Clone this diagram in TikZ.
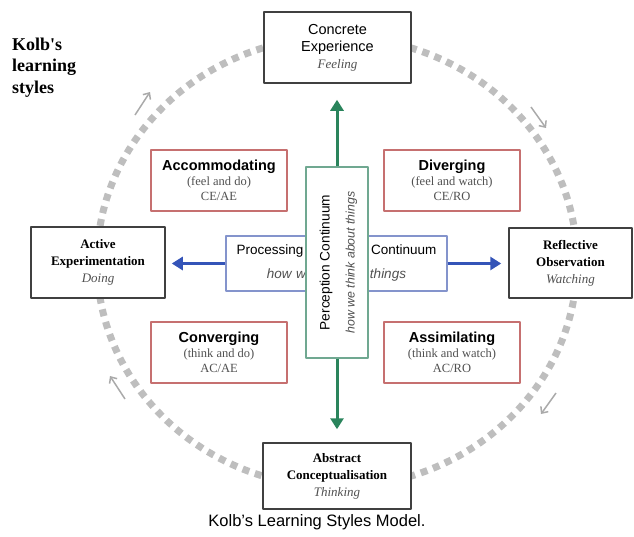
\documentclass[tikz,border=0pt]{standalone}
\usepackage{fontspec}
\setmainfont{Liberation Serif}
\setsansfont{Liberation Sans}
\usetikzlibrary{arrows.meta}
\definecolor{boxred}{RGB}{198,112,112}
\definecolor{boxgreen}{RGB}{112,168,145}
\definecolor{arrgreen}{RGB}{42,132,92}
\definecolor{boxblue}{RGB}{132,148,204}
\definecolor{arrblue}{RGB}{52,84,184}
\definecolor{cyclegray}{RGB}{190,190,190}
\definecolor{arrgray}{RGB}{170,170,170}
\definecolor{txtgray}{RGB}{80,80,80}
\begin{document}
\begin{tikzpicture}[x=1pt,y=-1pt,line join=round,line cap=butt,
  modebox/.style={draw=black!75,line width=1.5pt,fill=white,align=center,inner sep=0pt,
    font=\bfseries\fontsize{13}{17}\selectfont},
  kolbbox/.style={draw=boxred,line width=1.2pt,fill=white,align=center,inner sep=0pt,
    minimum width=136pt,minimum height=61pt,font=\fontsize{12.5}{15}\selectfont\color{txtgray}},
  axis/.style={line width=3pt,-{Triangle[width=13pt,length=11pt]}}]
\def \cx{337}\def \cy{262}
\def \ktitle{\sffamily\bfseries\fontsize{14.5}{15}\selectfont\color{black}}
\useasboundingbox (0,0) rectangle (634,536);
% learning cycle
\draw[cyclegray,line width=7pt,dash pattern=on 7pt off 6pt] (\cx,\cy) ellipse [x radius=240,y radius=225];
\coordinate (tlA) at (135,115); \coordinate (tlB) at (150,92);
\coordinate (trA) at (531,107); \coordinate (trB) at (546,128);
\coordinate (brA) at (556,393); \coordinate (brB) at (541,414);
\coordinate (blA) at (125,399); \coordinate (blB) at (110,376);
\foreach \a in {tl,tr,br,bl}
  \draw[arrgray,line width=1.5pt,-{Straight Barb[length=5pt,width=9pt]}] (\a A)--(\a B);
% four modes
\node[modebox,minimum width=147pt,minimum height=71pt,font=\sffamily\fontsize{14.5}{17}\selectfont] (ce) at (337.5,47.5)
  {Concrete\\Experience\\{\rmfamily\itshape\fontsize{13}{17}\selectfont\color{txtgray}Feeling}};
\node[modebox,minimum width=134pt,minimum height=71pt] (ae) at (98,262.5)
  {Active\\Experimentation\\{\mdseries\itshape\color{txtgray}Doing}};
\node[modebox,minimum width=123pt,minimum height=70pt] (ro) at (570.5,263)
  {Reflective\\Observation\\{\mdseries\itshape\color{txtgray}Watching}};
\node[modebox,minimum width=148pt,minimum height=66pt] (ac) at (337,476)
  {Abstract\\Conceptualisation\\{\mdseries\itshape\color{txtgray}Thinking}};
% four styles
\node[kolbbox] (acc) at (219,180.5) {{\ktitle Accommodating}\\(feel and do)\\CE/AE};
\node[kolbbox] (div) at (452,180.5) {{\ktitle Diverging}\\(feel and watch)\\CE/RO};
\node[kolbbox] (conv) at (219,352.5) {{\ktitle Converging}\\(think and do)\\AC/AE};
\node[kolbbox] (assim) at (452,352.5) {{\ktitle Assimilating}\\(think and watch)\\AC/RO};
% two continua
\node[draw=boxblue,line width=1.2pt,fill=white,minimum width=221pt,minimum height=55pt,inner sep=0pt,
  text width=200pt,align=center,font=\sffamily\fontsize{13.5}{24}\selectfont] (proc) at (336.5,263.5)
  {Processing\hskip 0pt plus 1fill Continuum\\
   {\itshape\fontsize{13.5}{24}\selectfont\color{txtgray}how we\hspace{37pt}do things}};
\node[draw=boxgreen,line width=1.2pt,fill=white,minimum width=62pt,minimum height=191pt,inner sep=0pt] (perc) at (337,262.5)
  {\rotatebox{90}{\sffamily\fontsize{13.7}{25}\selectfont\begin{tabular}{@{}c@{}}
   Perception Continuum\\ {\itshape\fontsize{12.3}{25}\selectfont\color{txtgray}how we think about things}\end{tabular}}};
\draw[arrgreen,axis,shorten >=16pt] (perc.north)--(perc.north|-ce.south);
\draw[arrgreen,axis,shorten >=13pt] (perc.south)--(perc.south|-ac.north);
\draw[arrblue,axis,shorten >=6pt] (proc.west)--(proc.west-|ae.east);
\draw[arrblue,axis,shorten >=7pt] (proc.east)--(proc.east-|ro.west);
% labels
\node[anchor=north west,align=left,inner sep=0pt,font=\bfseries\fontsize{18}{21.5}\selectfont] (title) at (12,37.5)
  {Kolb\textquotesingle s\\learning\\styles};
\node[font=\sffamily\fontsize{16.5}{20}\selectfont] (cap) at (317,522) {Kolb's Learning Styles Model.};
\end{tikzpicture}
\end{document}
